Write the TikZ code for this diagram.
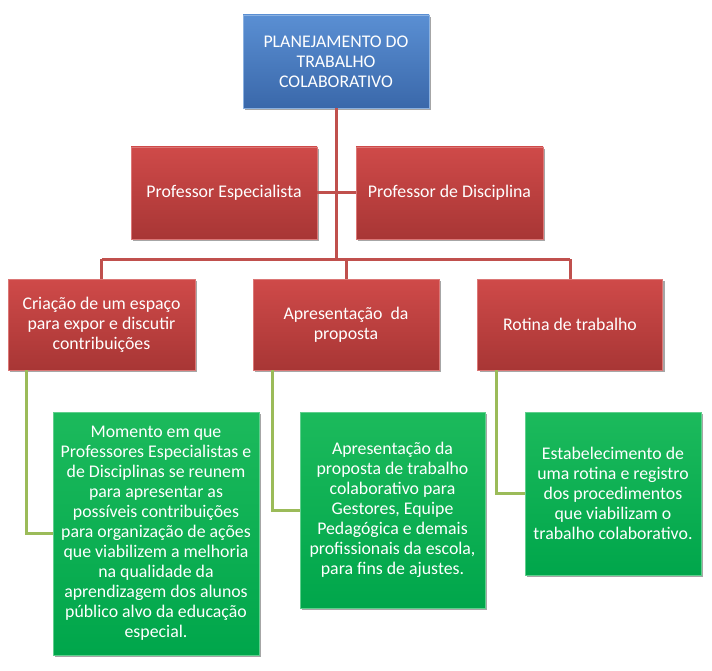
\documentclass[tikz,border=0pt]{standalone}
\usepackage{fontspec}
\setmainfont{Carlito}
\usetikzlibrary{shadows}
\definecolor{bluetop}{HTML}{5A8FD3}
\definecolor{bluebot}{HTML}{3A68AA}
\definecolor{redtop}{HTML}{CF4A49}
\definecolor{redbot}{HTML}{A83635}
\definecolor{greentop}{HTML}{1CBA5C}
\definecolor{greenbot}{HTML}{00A64B}
\definecolor{redline}{HTML}{C0504D}
\definecolor{greenline}{HTML}{9BBB59}
\tikzset{
  box/.style={rectangle, inner sep=0pt, align=center, text=white,
    font=\fontsize{17.8}{20}\selectfont, shading=axis, shading angle=0,
    drop shadow={shadow xshift=2pt, shadow yshift=-2pt, opacity=0.35, fill=black}},
  bluebox/.style={box, top color=bluetop, bottom color=bluebot, draw=bluetop!70!white, line width=0.6pt},
  redbox/.style={box, top color=redtop, bottom color=redbot, draw=redtop!75!white, line width=0.6pt},
  greenbox/.style={box, top color=greentop, bottom color=greenbot, draw=greentop!70!white, line width=0.6pt},
  rline/.style={draw=redline, line width=3pt},
  gline/.style={draw=greenline, line width=3pt}
}
\begin{document}
\begin{tikzpicture}[x=1pt,y=-1pt]
\useasboundingbox (0,0) rectangle (712,671);
\coordinate (busy) at (0,259);
\node[bluebox, minimum width=186pt, minimum height=93pt] (top) at (336,61.5)
  {PLANEJAMENTO DO\\TRABALHO\\COLABORATIVO};
\node[redbox, minimum width=186pt, minimum height=92pt] (pe) at (224,193) {Professor Especialista};
\node[redbox, minimum width=187pt, minimum height=92pt] (pd) at (449.5,193) {Professor de Disciplina};
\node[redbox, minimum width=187pt, minimum height=91pt] (c1) at (101.5,324.5)
  {Criação de um espaço\\para expor e discutir\\contribuições};
\node[redbox, minimum width=186pt, minimum height=91pt] (c2) at (346,324.5)
  {Apresentação\ \ da\\proposta};
\node[redbox, minimum width=185pt, minimum height=91pt] (c3) at (570,324.5) {Rotina de trabalho};
\node[greenbox, minimum width=206pt, minimum height=243pt] (g1) at (156,533.5)
  {Momento em que\\Professores Especialistas e\\de Disciplinas se reunem\\para apresentar as\\possíveis contribuições\\para organização de ações\\que viabilizem a melhoria\\na qualidade da\\aprendizagem dos alunos\\público alvo da educação\\especial.};
\node[greenbox, minimum width=185pt, minimum height=196pt] (g2) at (392.5,510)
  {Apresentação da\\proposta de trabalho\\colaborativo para\\Gestores, Equipe\\Pedagógica e demais\\profissionais da escola,\\para fins de ajustes.};
\node[greenbox, minimum width=176pt, minimum height=163pt] (g3) at (613,493.5)
  {Estabelecimento de\\uma rotina e registro\\dos procedimentos\\que viabilizam o\\trabalho colaborativo.};
\draw[rline] (top.south) -- (top.south |- busy);
\draw[rline] (pe.east) -- (pe.east -| top.south);
\draw[rline] (pd.west) -- (pd.west -| top.south);
\draw[rline] (c1.north |- busy) -- (c3.north |- busy);
\draw[rline] (c1.north |- busy) -- (c1.north);
\draw[rline] (c2.north |- busy) -- (c2.north);
\draw[rline] (c3.north |- busy) -- (c3.north);
\draw[gline] ([xshift=19pt]c1.south west) |- (g1.west);
\draw[gline] ([xshift=20pt]c2.south west) |- (g2.west);
\draw[gline] ([xshift=19pt]c3.south west) |- (g3.west);
\end{tikzpicture}
\end{document}
